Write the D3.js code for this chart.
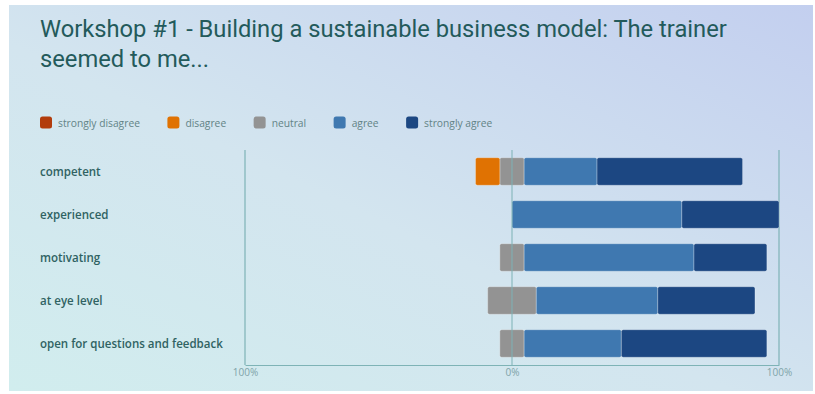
<!DOCTYPE html>
<html>
<head>
<meta charset="utf-8">
<script src="https://cdn.jsdelivr.net/npm/d3@7"></script>
<style>
  html, body { margin: 0; padding: 0; background: #ffffff; }
  svg { display: block; font-family: "Open Sans", "Noto Sans", sans-serif; }
</style>
</head>
<body>
<svg id="chart" width="815" height="394"></svg>
<script>
// Survey answers per statement, in percent of respondents
const categories = ["competent", "experienced", "motivating", "at eye level", "open for questions and feedback"];
const stronglyDisagree = [0, 0, 0, 0, 0];
const disagree = [9.1, 0, 0, 0, 0];
const neutral = [9.1, 0, 9.1, 18.2, 9.1];
const agree = [27.3, 63.6, 63.6, 45.5, 36.4];
const stronglyAgree = [54.5, 36.4, 27.3, 36.4, 54.5];

const seriesNames = ["strongly disagree", "disagree", "neutral", "agree", "strongly agree"];
const seriesColors = ["#b23c0c", "#e07202", "#939393", "#3f78b0", "#1c4782"];
const tickValues = [-100, 0, 100];

const titleLines = ["Workshop #1 - Building a sustainable business model: The trainer", "seemed to me..."];

const svg = d3.select("#chart");

// card background
const defs = svg.append("defs");
const grad = defs.append("linearGradient")
  .attr("id", "bg").attr("x1", "0").attr("y1", "1").attr("x2", "1").attr("y2", "0");
grad.append("stop").attr("offset", "0").attr("stop-color", "#d1edee");
grad.append("stop").attr("offset", "0.45").attr("stop-color", "#d3e5ef");
grad.append("stop").attr("offset", "1").attr("stop-color", "#c3cfef");
svg.append("rect").attr("x", 9).attr("y", 5).attr("width", 804).attr("height", 386).attr("fill", "url(#bg)");

// place text at (x, y) and squeeze it horizontally so that it spans targetWidth
function placeText(parent, x, y, str, size, targetWidth) {
  const g = parent.append("g");
  const t = g.append("text").attr("x", 0).attr("y", 0).attr("font-size", size).text(str);
  let k = 1;
  if (targetWidth) k = targetWidth / t.node().getComputedTextLength();
  g.attr("transform", `translate(${x},${y}) scale(${k.toFixed(4)},1)`);
  return { g, t, k };
}

// title
const title = svg.append("g").attr("fill", "#235a5b").attr("font-family", "Roboto, sans-serif").attr("font-weight", 400);
const tl = placeText(title, 40, 37, titleLines[0], 24.5, 687);
const tl2 = placeText(title, 40, 67, titleLines[1], 24.5);
tl2.g.attr("transform", `translate(40,67) scale(${tl.k.toFixed(4)},1)`);

// legend
const legend = svg.append("g").attr("fill", "#628386");
let lx = 40;
let legendK = 1;
seriesNames.forEach((name, i) => {
  legend.append("rect").attr("x", lx).attr("y", 116.5).attr("width", 12).attr("height", 12)
    .attr("rx", 2.5).attr("fill", seriesColors[i]);
  const p = placeText(legend, lx + 18, 126.5, name, 11.5, i === 0 ? 82 : null);
  if (i === 0) legendK = p.k;
  p.g.attr("transform", `translate(${lx + 18},126.5) scale(${legendK.toFixed(4)},1)`);
  lx = lx + 18 + p.t.node().getComputedTextLength() * legendK + 27.5;
});

// scales
const x = d3.scaleLinear().domain([-100, 100]).range([245, 779]);
const y = d3.scaleBand().domain(categories).range([150, 365]).paddingInner(0.36).paddingOuter(0.18);

// category labels
const labels = svg.append("g").attr("fill", "#2f6262").attr("font-weight", 600);
const lastLabel = placeText(labels, 40, 0, categories[categories.length - 1], 12.5, 183);
lastLabel.g.remove();
categories.forEach(c => {
  const p = placeText(labels, 40, y(c) + y.bandwidth() / 2 + 4.5, c, 12.5);
  p.g.attr("transform", `translate(40,${y(c) + y.bandwidth() / 2 + 4.5}) scale(${lastLabel.k.toFixed(4)},1)`);
});

// frame lines
const axisColor = "#7eb3b6";
const frame = svg.append("g").attr("stroke", axisColor).attr("stroke-width", 1.2).attr("fill", "none");
frame.append("line").attr("x1", x(-100)).attr("x2", x(-100)).attr("y1", 150).attr("y2", 365);
frame.append("line").attr("x1", x(100)).attr("x2", x(100)).attr("y1", 150).attr("y2", 365);

// stacked diverging segments
const segs = [];
categories.forEach((c, i) => {
  const vals = [stronglyDisagree[i], disagree[i], neutral[i], agree[i], stronglyAgree[i]];
  // left side: half of neutral, then disagree, then strongly disagree
  const left = -vals[2] / 2;
  segs.push({ c, k: 2, x0: left, x1: left + vals[2] });
  let pos = left;
  [1, 0].forEach(k => {
    if (vals[k] > 0) segs.push({ c, k, x0: pos - vals[k], x1: pos });
    pos -= vals[k];
  });
  pos = vals[2] / 2;
  [3, 4].forEach(k => {
    if (vals[k] > 0) segs.push({ c, k, x0: pos, x1: pos + vals[k] });
    pos += vals[k];
  });
});

svg.append("g").selectAll("rect")
  .data(segs.filter(d => d.x1 - d.x0 > 0))
  .join("rect")
  .attr("x", d => x(d.x0))
  .attr("width", d => x(d.x1) - x(d.x0))
  .attr("y", d => y(d.c))
  .attr("height", y.bandwidth())
  .attr("rx", 1.8)
  .attr("fill", d => seriesColors[d.k])
  .attr("stroke", "rgba(255,255,255,0.35)")
  .attr("stroke-width", 0.8);

// zero line and bottom axis
svg.append("line").attr("x1", x(0)).attr("x2", x(0)).attr("y1", 150).attr("y2", 365)
  .attr("stroke", axisColor).attr("stroke-width", 1.2).attr("stroke-opacity", 0.85);

const axis = svg.append("g").attr("transform", "translate(0,365)")
  .call(d3.axisBottom(x).tickValues(tickValues).tickSize(0).tickPadding(4)
    .tickFormat(d => Math.abs(d) + "%"));
axis.select(".domain").attr("stroke", axisColor).attr("stroke-width", 1.2);
axis.selectAll("text").attr("fill", "#7fa3a8").attr("font-size", 10)
  .attr("font-family", "\"Open Sans\", \"Noto Sans\", sans-serif");
</script>
</body>
</html>
